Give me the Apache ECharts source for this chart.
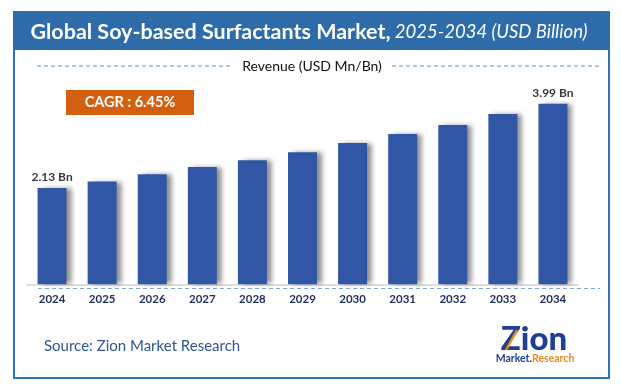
<!DOCTYPE html>
<html>
<head>
<meta charset="utf-8">
<script src="https://cdn.jsdelivr.net/npm/echarts@6/dist/echarts.min.js"></script>
<style>
html,body{margin:0;padding:0;background:#fff;}
#main{width:621px;height:391px;}
</style>
</head>
<body>
<div id="main"></div>
<script>
const categories = ['2024','2025','2026','2027','2028','2029','2030','2031','2032','2033','2034'];
const revenue = [2.13, 2.27, 2.43, 2.59, 2.74, 2.92, 3.12, 3.32, 3.52, 3.76, 3.99];
const titleMain = 'Global Soy-based Surfactants Market,';
const titleSub = ' 2025-2034 (USD Billion)';
const legendText = 'Revenue (USD Mn/Bn)';
const cagrText = 'CAGR : 6.45%';
const sourceText = 'Source: Zion Market Research';

const FONT = 'Lato, "Open Sans", sans-serif';
const chart = echarts.init(document.getElementById('main'), null, {renderer: 'canvas'});
const lastIdx = revenue.length - 1;
const barData = revenue.map((v, i) => ({
  value: v,
  label: {show: i === 0 || i === lastIdx}
}));

chart.setOption({
  animation: false,
  backgroundColor: '#fff',
  grid: {left: 27, right: 43, top: 58, bottom: 106.7, containLabel: false},
  xAxis: {
    type: 'category',
    data: categories,
    axisLine: {show: true, lineStyle: {color: '#d4d4d4', width: 1.5}},
    axisTick: {show: false},
    axisLabel: {color: '#1f2d5c', fontWeight: 'bold', fontSize: 11.5, fontFamily: FONT, margin: 9}
  },
  yAxis: {type: 'value', min: 0, max: 5, show: false, splitLine: {show: false}},
  series: [{
    type: 'bar',
    data: barData,
    barWidth: 29,
    itemStyle: {
      color: '#3156a5',
      shadowColor: 'rgba(0,0,0,0.45)',
      shadowBlur: 5,
      shadowOffsetX: 5,
      shadowOffsetY: 0
    },
    label: {
      position: 'top',
      distance: 5,
      color: '#3a3a3a',
      fontWeight: 'bold',
      fontSize: 12,
      fontFamily: FONT,
      formatter: p => p.value + ' Bn'
    }
  }],
  graphic: [
    {type: 'rect', shape: {x: 14, y: 12, width: 595, height: 366}, style: {fill: 'none', stroke: '#2e75b6', lineWidth: 2}, z: 10},
    {type: 'rect', shape: {x: 13, y: 12, width: 597, height: 38}, style: {fill: '#2d6ba9'}, z: 11},
    {type: 'text', x: 309, y: 32, z: 12, style: {
      text: '{a|' + titleMain + '}{b|' + titleSub + '}',
      align: 'center', verticalAlign: 'middle',
      rich: {
        a: {fill: '#fff', fontWeight: 'bold', fontSize: 21.5, fontFamily: FONT},
        b: {fill: '#fff', fontStyle: 'italic', fontSize: 18.5, fontFamily: FONT}
      }
    }},
    {type: 'line', shape: {x1: 37, y1: 66, x2: 232, y2: 66}, style: {stroke: '#5b8fd6', lineWidth: 1, lineDash: [4, 3]}, z: 10},
    {type: 'line', shape: {x1: 392, y1: 66, x2: 600, y2: 66}, style: {stroke: '#5b8fd6', lineWidth: 1, lineDash: [4, 3]}, z: 10},
    {type: 'text', x: 312, y: 66, z: 10, style: {text: legendText, align: 'center', verticalAlign: 'middle', fill: '#111', fontSize: 14, fontFamily: FONT}},
    {type: 'rect', shape: {x: 66, y: 90, width: 128, height: 25}, style: {fill: '#d2600f'}, z: 10},
    {type: 'text', x: 130, y: 102.5, z: 11, style: {text: cagrText, align: 'center', verticalAlign: 'middle', fill: '#fff', fontWeight: 'bold', fontSize: 14.5, fontFamily: FONT}},
    {type: 'line', shape: {x1: 38, y1: 288.5, x2: 600, y2: 288.5}, style: {stroke: '#7fa6e0', lineWidth: 1, lineDash: [4, 3]}, z: 10},
    {type: 'text', x: 44, y: 346, z: 10, style: {text: sourceText, align: 'left', verticalAlign: 'middle', fill: '#2f5597', fontSize: 15, fontFamily: FONT}},
    {type: 'text', x: 534, y: 339, z: 10, style: {text: 'Zion', align: 'center', verticalAlign: 'middle', fill: '#1f3f94', fontWeight: 900, fontSize: 33, fontFamily: FONT}},
    {type: 'line', shape: {x1: 506, y1: 350, x2: 517, y2: 330}, style: {stroke: '#f08a1c', lineWidth: 2.5}, z: 11},
    {type: 'text', x: 535, y: 359, z: 10, style: {
      text: '{m|Market.}{r|Research}', align: 'center', verticalAlign: 'middle',
      rich: {
        m: {fill: '#1f3f94', fontWeight: 'bold', fontSize: 10.5, fontFamily: FONT},
        r: {fill: '#f08a1c', fontWeight: 'bold', fontSize: 10.5, fontFamily: FONT}
      }
    }}
  ]
});
</script>
</body>
</html>
